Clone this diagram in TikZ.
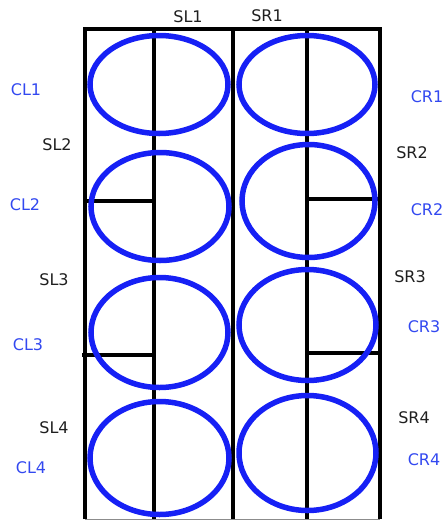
\documentclass[tikz,border=0pt]{standalone}
\usepackage{fontspec}
\setmainfont{DejaVu Sans}
\usepackage{tikz}
\usetikzlibrary{shapes.geometric}
\definecolor{cellblue}{RGB}{22,32,245}
\definecolor{labblue}{RGB}{50,72,240}
\tikzset{
  wall/.style={line width=3.3pt, black},
  cell/.style={ellipse, draw=cellblue, line width=5.5pt, inner sep=0pt},
  slab/.style={font=\fontsize{16}{19}\selectfont, text=black!88, inner sep=0pt},
  clab/.style={font=\fontsize{16}{19}\selectfont, text=labblue, inner sep=0pt}}

\begin{document}
\begin{tikzpicture}[x=1pt,y=-1pt]
	\useasboundingbox (0,0) rectangle (445,520);
	\coordinate (tl) at (85,29);
	\coordinate (tr) at (380,29);
	\coordinate (bl) at (85,519);
	\coordinate (br) at (380,519);
	\coordinate (mt) at (233,29);
	\coordinate (mb) at (233,519);
	\coordinate (lt) at (154,29);
	\coordinate (lb) at (154,519);
	\coordinate (rt) at (307,29);
	\coordinate (rb) at (307,519);
	\coordinate (l2a) at (85,201);\coordinate (l2b) at (154,201);
	\coordinate (r2a) at (307,199);\coordinate (r2b) at (378,199);
	\coordinate (l3a) at (82,355);\coordinate (l3b) at (154,355);
	\coordinate (r3a) at (307,353);\coordinate (r3b) at (380,353);
% box and splits
\draw [wall] (bl) -- (tl) -- (tr) -- (br);
\draw [black!45, line width=1pt] (bl) -- (br);
\draw [wall] (mt) -- (mb);\draw [wall] (lt) -- (lb);\draw [wall] (rt) -- (rb);
\draw [wall] (l2a) -- (l2b);\draw [wall] (r2a) -- (r2b);
\draw [wall] (l3a) -- (l3b);\draw [wall] (r3a) -- (r3b);
% cells
\node [cell, minimum width=138, minimum height=98] (c1) at (159,84.5) {};
\node [cell, minimum width=136, minimum height=98] (d1) at (307,84.5) {};
\node [cell, minimum width=138, minimum height=108] (c2) at (160,206.5) {};
\node [cell, minimum width=133, minimum height=113] (d2) at (308.5,201) {};
\node [cell, minimum width=137, minimum height=110] (c3) at (159.5,332.5) {};
\node [cell, minimum width=137, minimum height=111] (d3) at (307.5,325) {};
\node [cell, minimum width=139, minimum height=113] (c4) at (159.5,458) {};
\node [cell, minimum width=137, minimum height=115] (d4) at (307.5,453) {};
% labels
\node [slab] (sl1) at (188,17) {SL1};\node [slab] (sr1) at (267,16) {SR1};
\node [slab] (sl2) at (57,145) {SL2};\node [slab] (sr2) at (412,153) {SR2};
\node [slab] (sl3) at (54,280) {SL3};\node [slab] (sr3) at (410,277) {SR3};
\node [slab] (sl4) at (54,428) {SL4};\node [slab] (sr4) at (414,418) {SR4};
\node [clab] (cl1) at (26,90) {CL1};\node [clab] (cr1) at (427,97) {CR1};
\node [clab] (cl2) at (25,205) {CL2};\node [clab] (cr2) at (427,210) {CR2};
\node [clab] (cl3) at (28,345) {CL3};\node [clab] (cr3) at (424,327) {CR3};
\node [clab] (cl4) at (31,468) {CL4};\node [clab] (cr4) at (424,460) {CR4};
\end{tikzpicture}
\end{document}
